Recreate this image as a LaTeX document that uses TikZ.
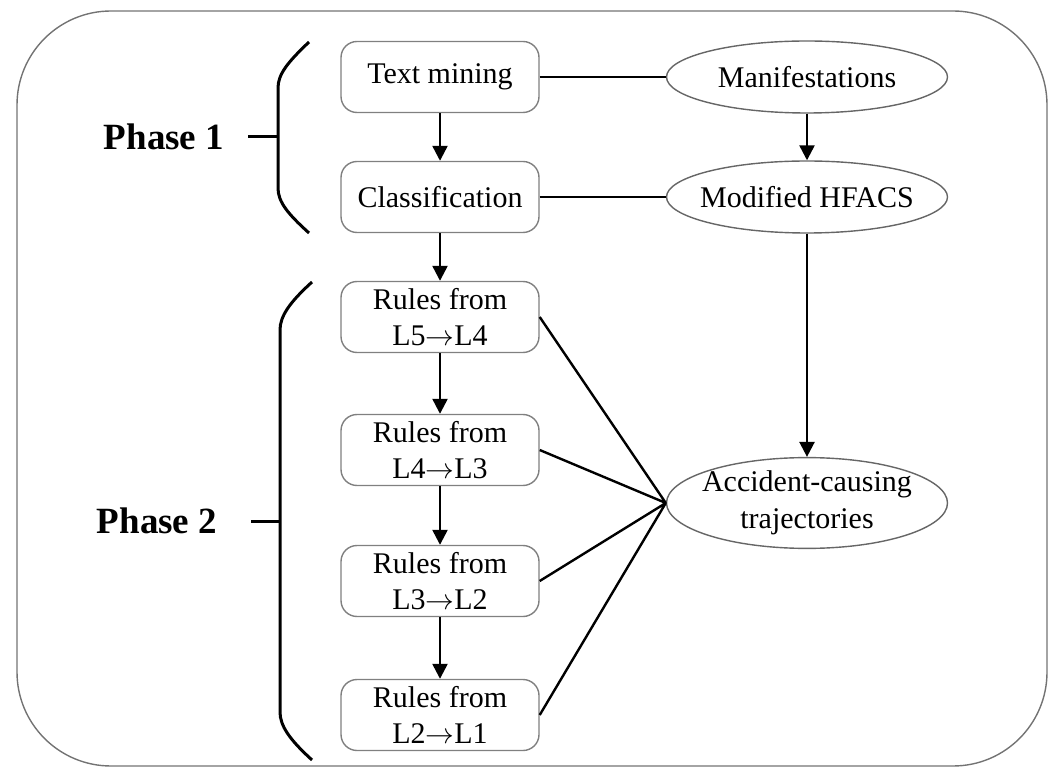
\documentclass[tikz,border=0pt]{standalone}
\usepackage{fontspec}
\setmainfont{Liberation Serif}
\usepackage{tikz}
\usetikzlibrary{shapes.geometric,arrows.meta}

\newcommand{\lvarrow}{$\rightarrow$}

\begin{document}
\begin{tikzpicture}[x=0.5pt,y=-0.5pt,thick]
    % `stage' is used for the rounded boxes of the left column.
    % `concept' is used for the ellipses on the right.
    % `flow' is used for the arrows, `link' for the plain lines.
    \tikzstyle{stage} = [draw=gray,line width=0.7pt,fill=white,rounded corners=8pt,
      minimum width=99pt,minimum height=35.5pt,inner sep=0pt,align=center,
      font=\fontsize{15}{18}\selectfont]
    \tikzstyle{concept} = [draw=gray!80!black,line width=0.7pt,fill=white,ellipse,
      minimum width=140.5pt,minimum height=36pt,inner sep=0pt,inner xsep=-4pt,align=center,
      font=\fontsize{15}{18.5}\selectfont]
    \tikzstyle{flow} = [line width=1.2pt,-{Triangle[length=7.5pt,width=7.5pt]}]
    \tikzstyle{link} = [line width=1.2pt]
    \tikzstyle{bracket} = [line width=1.5pt]
    \tikzstyle{phase} = [font=\fontsize{18.5}{22}\selectfont\bfseries]
    %
    \useasboundingbox (0,0) rectangle (1053,769);
    % Draw outer frame.
    \draw[gray!90!black,line width=0.7pt,rounded corners=47pt] (17,11) rectangle (1047,766);
    %
    \node[stage] (tm) at (440,77) {\raisebox{-2pt}{Text mining}};
    \node[stage] (cls) at (440,197) {\raisebox{-1pt}{Classification}};
    \node[stage] (r54) at (440,317) {Rules from\\L5\lvarrow L4};
    \node[stage] (r43) at (440,450) {Rules from\\L4\lvarrow L3};
    \node[stage] (r32) at (440,581) {Rules from\\L3\lvarrow L2};
    \node[stage] (r21) at (440,715) {Rules from\\L2\lvarrow L1};
    %
    \node[concept] (man) at (807,77) {Manifestations};
    \node[concept] (hfacs) at (807,197) {Modified HFACS};
    \node[concept,minimum height=44pt] (act) at (807,503) {Accident-causing\\trajectories};
    %
    \node[phase] (p1) at (164,137) {Phase 1};
    \node[phase] (p2) at (157,521) {Phase 2};
    % Draw brackets.
    \draw[bracket] (309,42) .. controls (288,62) and (278,74) .. (278,88) -- (278,188)
                   .. controls (278,202) and (288,214) .. (309,233);
    \draw[bracket] (248,137) -- (278,137);
    \draw[bracket] (312,282) .. controls (290,302) and (280,316) .. (280,330) -- (280,712)
                   .. controls (280,726) and (290,740) .. (312,760);
    \draw[bracket] (251,521) -- (280,521);
    % Draw connectors.
    \draw[flow] (tm) -- (cls);
    \draw[flow] (cls) -- (r54);
    \draw[flow] (r54) -- (r43);
    \draw[flow] (r43) -- (r32);
    \draw[flow] (r32) -- (r21);
    \draw[flow] (man) -- (hfacs);
    \draw[flow] (hfacs) -- (act);
    \draw[link] (tm) -- (man)  (cls) -- (hfacs);
    \draw[link] (r54.east) -- (act.west)  (r43.east) -- (act.west)
                (r32.east) -- (act.west)  (r21.east) -- (act.west);
\end{tikzpicture}
\end{document}
